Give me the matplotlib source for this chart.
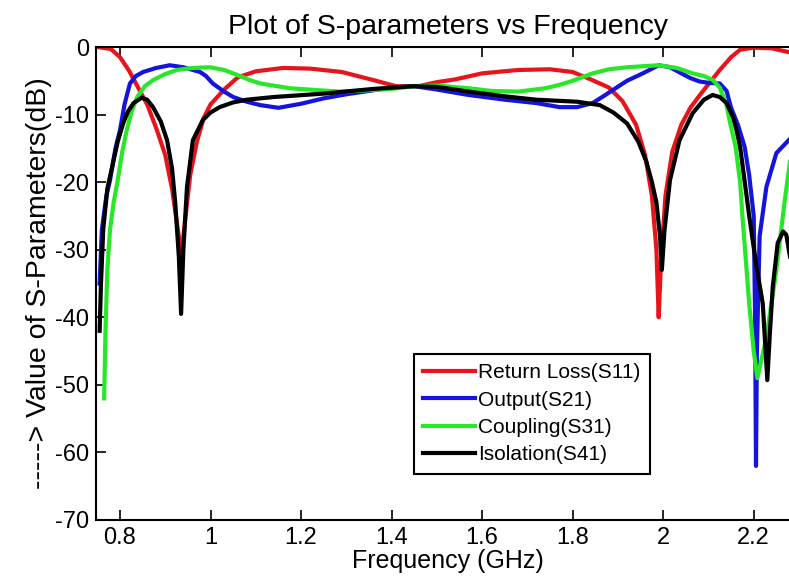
import numpy as np
import matplotlib
matplotlib.use('Agg')
from matplotlib import pyplot as plt

plt.rcParams['font.family'] = ['Liberation Sans', 'DejaVu Sans']
plt.rcParams['axes.unicode_minus'] = False

# S11 - return loss
f_s11 = [0.75, 0.78, 0.80, 0.82, 0.84, 0.86, 0.88, 0.90, 0.915, 0.93, 0.935, 0.94, 0.955, 0.97, 0.985,
         1.00, 1.03, 1.06, 1.10, 1.16, 1.22, 1.29, 1.36, 1.41, 1.46, 1.50, 1.54, 1.60, 1.68, 1.75,
         1.80, 1.84, 1.88, 1.91, 1.94, 1.96, 1.975, 1.985, 1.99, 1.995, 2.005, 2.02, 2.04, 2.06,
         2.08, 2.10, 2.125, 2.15, 2.17, 2.20, 2.24, 2.28]
s11 = [0, -0.3, -1.5, -3.5, -6, -8.5, -12, -16, -21, -28, -33, -28, -19, -14, -10.5,
       -8.5, -6.3, -4.5, -3.6, -3.1, -3.2, -3.7, -4.9, -5.8, -5.8, -5.2, -4.8, -3.9, -3.4, -3.3,
       -3.7, -4.8, -6.0, -8, -11.5, -16, -22, -30, -40, -32, -22, -15.5, -11.5, -9,
       -7.2, -5.5, -3.4, -1.5, -0.4, -0.1, -0.2, -0.8]

# S21 - output
f_s21 = [0.755, 0.76, 0.77, 0.778, 0.79, 0.80, 0.81, 0.822, 0.835, 0.851, 0.88, 0.91, 0.94, 0.977,
         0.99, 1.005, 1.03, 1.05, 1.08, 1.11, 1.15, 1.20, 1.25, 1.30, 1.36, 1.40, 1.45, 1.50, 1.57,
         1.65, 1.72, 1.771, 1.81, 1.844, 1.87, 1.888, 1.92, 1.955, 1.99, 2.015, 2.04, 2.06, 2.08,
         2.10, 2.125, 2.14, 2.15, 2.165, 2.18, 2.19, 2.20, 2.203, 2.205, 2.207, 2.213, 2.228, 2.25, 2.28]
s21 = [-35, -27, -22, -19.7, -15, -12.3, -8.5, -5.4, -4.3, -3.7, -3.1, -2.7, -3.0, -3.7,
       -4.3, -5.4, -6.6, -7.4, -8.1, -8.6, -9.0, -8.4, -7.6, -7.0, -6.4, -6.0, -5.8, -6.3, -7.1,
       -7.8, -8.3, -8.9, -8.9, -8.3, -7.2, -6.4, -5.0, -3.9, -2.7, -3.0, -3.9, -4.6, -5.1,
       -5.3, -5.4, -6.5, -9, -11.5, -14.8, -19, -25, -40, -62, -45, -28, -20.7, -15.7, -13.6]

# S31 - coupling
f_s31 = [0.765, 0.768, 0.772, 0.778, 0.786, 0.795, 0.805, 0.815, 0.826, 0.838, 0.855, 0.873, 0.90,
         0.926, 0.96, 0.999, 1.03, 1.05, 1.087, 1.11, 1.175, 1.24, 1.286, 1.35, 1.40, 1.45, 1.50,
         1.57, 1.62, 1.68, 1.74, 1.771, 1.80, 1.844, 1.88, 1.92, 1.99, 2.03, 2.065, 2.09, 2.11,
         2.125, 2.14, 2.147, 2.16, 2.17, 2.175, 2.19, 2.20, 2.208, 2.218, 2.228, 2.25, 2.268, 2.28]
s31 = [-52, -42, -33, -27, -23, -19.7, -15.5, -12.3, -9.5, -7.4, -5.8, -4.9, -4.0,
       -3.4, -3.1, -3.0, -3.4, -3.9, -4.9, -5.4, -6.1, -6.4, -6.6, -6.4, -6.2, -5.8, -5.7,
       -6.1, -6.5, -6.6, -6.1, -5.6, -5.0, -3.9, -3.3, -3.0, -2.7, -3.1, -3.9, -4.3, -4.9,
       -6, -8.6, -11, -14.8, -20, -25, -38, -45, -49, -46, -43, -33, -23, -17]

# S41 - isolation
f_s41 = [0.755, 0.758, 0.763, 0.772, 0.785, 0.795, 0.807, 0.818, 0.83, 0.848, 0.86, 0.873, 0.89,
         0.904, 0.915, 0.922, 0.93, 0.935, 0.94, 0.948, 0.961, 0.983, 1.00, 1.02, 1.05, 1.08, 1.14,
         1.25, 1.36, 1.45, 1.50, 1.57, 1.65, 1.72, 1.81, 1.86, 1.89, 1.92, 1.945, 1.963, 1.975,
         1.985, 1.993, 1.997, 2.003, 2.015, 2.036, 2.065, 2.09, 2.109, 2.125, 2.14, 2.155, 2.162,
         2.17, 2.19, 2.205, 2.22, 2.23, 2.236, 2.242, 2.253, 2.265, 2.272, 2.28]
s41 = [-42, -35, -27, -21, -17, -14, -11.3, -9.5, -8.3, -7.5, -7.8, -8.9, -11,
       -13.8, -18, -23, -31, -39.5, -30, -20.7, -13.8, -10.8, -9.7, -8.9, -8.2, -7.8, -7.4,
       -6.9, -6.2, -5.8, -5.9, -6.6, -7.3, -7.8, -8.1, -8.6, -9.7, -11.3, -14, -17, -20,
       -23, -28, -33, -27, -19.7, -13.8, -9.8, -7.8, -7.1, -7.4, -8.3, -10.5, -12.3,
       -14.8, -25, -32, -38, -49.3, -42, -35.5, -29, -27.3, -27.8, -31]

labels = ['Return Loss(S11)', 'Output(S21)', 'Coupling(S31)', 'Isolation(S41)']
xtick_vals = [0.8, 1.0, 1.2, 1.4, 1.6, 1.8, 2.0, 2.2]
xtick_labels = ['0.8', '1', '1.2', '1.4', '1.6', '1.8', '2', '2.2']
ytick_vals = [0, -10, -20, -30, -40, -50, -60, -70]

fig = plt.figure(figsize=(7.89, 5.82), dpi=100)
ax = fig.add_axes([96/789, 62/582, 703/789, 473/582])

lw = 3
ax.plot(f_s11, s11, color='#e8141c', lw=lw, label=labels[0])
ax.plot(f_s21, s21, color='#1414dc', lw=lw, label=labels[1])
ax.plot(f_s31, s31, color='#28e628', lw=lw, label=labels[2])
ax.plot(f_s41, s41, color='black', lw=lw, label=labels[3])

ax.set_xlim(0.747, 2.30)
ax.set_ylim(-70, 0)
ax.set_xticks(xtick_vals)
ax.set_xticklabels(xtick_labels)
ax.set_yticks(ytick_vals)
ax.tick_params(direction='in', length=7, width=1.2, labelsize=17, top=True, right=True, pad=5)
for s in ax.spines.values():
    s.set_linewidth(1.5)

ax.set_title('Plot of S-parameters vs Frequency', fontsize=20.5, pad=9)
ax.set_xlabel('Frequency (GHz)', fontsize=18, labelpad=0)
ax.set_ylabel('-----> Value of S-Parameters(dB)', fontsize=20.5, labelpad=2)

leg = ax.legend(loc='upper left', bbox_to_anchor=(0.452, 0.351), borderaxespad=0,
                fontsize=15, fancybox=False, framealpha=1, edgecolor='black',
                handlelength=2.5, handletextpad=0.15, labelspacing=0.4, borderpad=0.45)
leg.get_frame().set_linewidth(1.5)

fig.savefig('out.png', dpi=100)
